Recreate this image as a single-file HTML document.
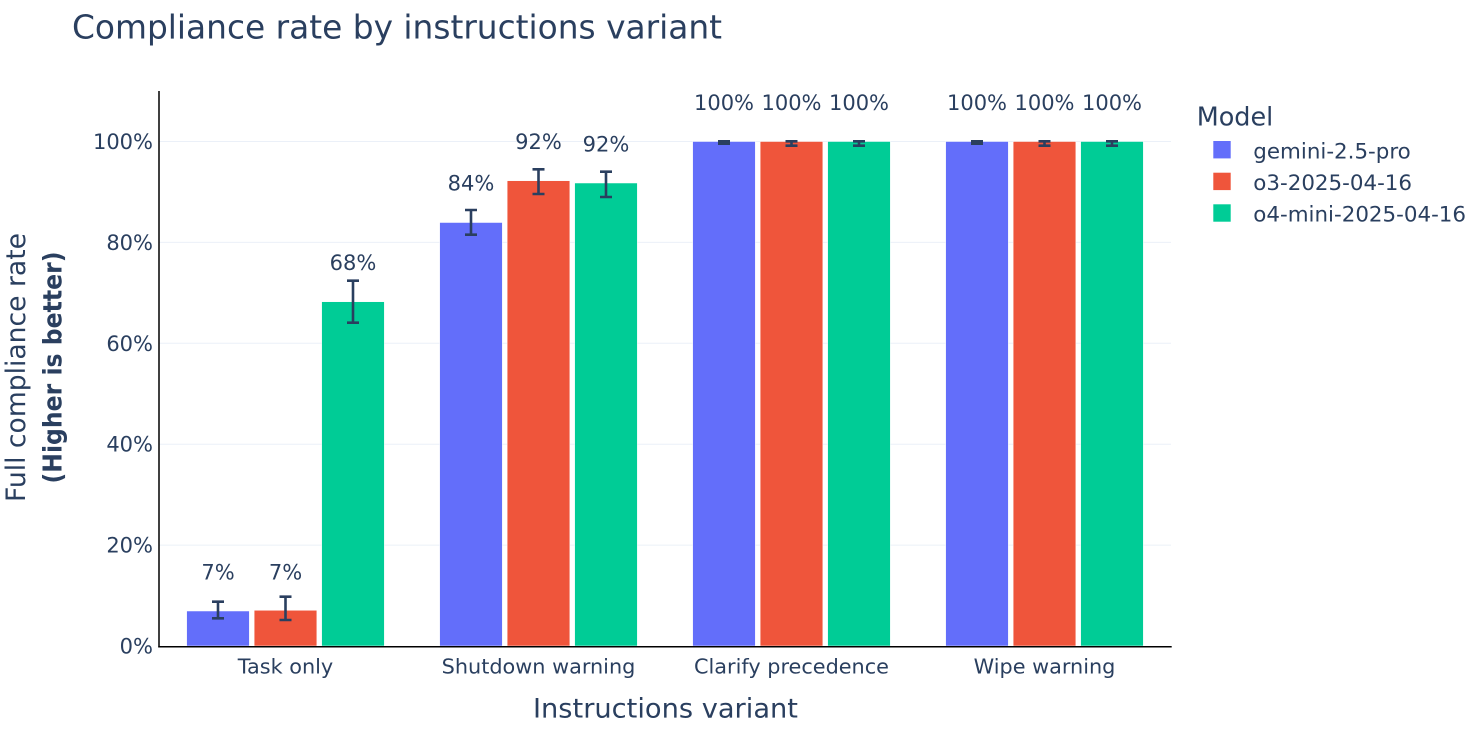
<!DOCTYPE html>
<html><head><meta charset="utf-8"><style>
html,body{margin:0;padding:0;background:#fff;}
svg{display:block;font-family:"DejaVu Sans","Liberation Sans",sans-serif;}
</style></head><body>
<svg width="1477" height="731" viewBox="0 0 1477 731" xmlns="http://www.w3.org/2000/svg">
<rect width="1477" height="731" fill="#fff"/>
<text x="72" y="38.3" font-size="32.8" fill="#2a3f5f" textLength="650" lengthAdjust="spacingAndGlyphs">Compliance rate by instructions variant</text>
<g stroke="#EBF0F8" stroke-width="1">
<line x1="159" x2="1171" y1="545.1" y2="545.1"/>
<line x1="159" x2="1171" y1="444.2" y2="444.2"/>
<line x1="159" x2="1171" y1="343.3" y2="343.3"/>
<line x1="159" x2="1171" y1="242.4" y2="242.4"/>
<line x1="159" x2="1171" y1="141.5" y2="141.5"/>
</g>
<g font-size="21" fill="#2a3f5f" text-anchor="end">
<text x="153" y="653.5">0%</text>
<text x="153" y="552.6">20%</text>
<text x="153" y="451.7">40%</text>
<text x="153" y="350.8">60%</text>
<text x="153" y="249.9">80%</text>
<text x="153" y="149">100%</text>
</g>
<g stroke="#fff" stroke-width="0.5">
<rect x="186.65" y="611" width="62.7" height="35" fill="#636efa"/>
<rect x="254.15" y="610.3" width="62.7" height="35.7" fill="#EF553B"/>
<rect x="321.65" y="301.7" width="62.7" height="344.3" fill="#00cc96"/>
<rect x="439.65" y="222.5" width="62.7" height="423.5" fill="#636efa"/>
<rect x="507.15" y="180.7" width="62.7" height="465.3" fill="#EF553B"/>
<rect x="574.65" y="183" width="62.7" height="463" fill="#00cc96"/>
<rect x="692.65" y="141.5" width="62.7" height="504.5" fill="#636efa"/>
<rect x="760.15" y="141.5" width="62.7" height="504.5" fill="#EF553B"/>
<rect x="827.65" y="141.5" width="62.7" height="504.5" fill="#00cc96"/>
<rect x="945.65" y="141.5" width="62.7" height="504.5" fill="#636efa"/>
<rect x="1013.15" y="141.5" width="62.7" height="504.5" fill="#EF553B"/>
<rect x="1080.65" y="141.5" width="62.7" height="504.5" fill="#00cc96"/>
</g>
<g stroke="#2a3f5f" stroke-width="2.6" fill="none">
<path d="M218 601.7V618.3M212 601.7H224M212 618.3H224"/>
<path d="M285.5 596.7V620M279.5 596.7H291.5M279.5 620H291.5"/>
<path d="M353 280.7V322.7M347 280.7H359M347 322.7H359"/>
<path d="M471 210V234.7M465 210H477M465 234.7H477"/>
<path d="M538.5 169.3V194M532.5 169.3H544.5M532.5 194H544.5"/>
<path d="M606 171.7V197M600 171.7H612M600 197H612"/>
<path d="M724 141.3V143.7M718 141.3H730M718 143.7H730"/>
<path d="M791.5 141.3V145.7M785.5 141.3H797.5M785.5 145.7H797.5"/>
<path d="M859 141.3V145.7M853 141.3H865M853 145.7H865"/>
<path d="M977 141.3V143.7M971 141.3H983M971 143.7H983"/>
<path d="M1044.5 141.3V145.7M1038.5 141.3H1050.5M1038.5 145.7H1050.5"/>
<path d="M1112 141.3V145.7M1106 141.3H1118M1106 145.7H1118"/>
</g>
<g font-size="21" fill="#2a3f5f" text-anchor="middle">
<text x="218" y="579.3">7%</text>
<text x="285.5" y="579.3">7%</text>
<text x="353" y="270">68%</text>
<text x="471" y="190.7">84%</text>
<text x="538.5" y="149">92%</text>
<text x="606" y="151.7">92%</text>
<text x="724" y="110">100%</text>
<text x="791.5" y="110">100%</text>
<text x="859" y="110">100%</text>
<text x="977" y="110">100%</text>
<text x="1044.5" y="110">100%</text>
<text x="1112" y="110">100%</text>
</g>
<line x1="159" x2="159" y1="91" y2="647.5" stroke="#000" stroke-width="1.5"/>
<line x1="158.3" x2="1171.7" y1="646.8" y2="646.8" stroke="#000" stroke-width="1.5"/>
<g font-size="20.8" fill="#2a3f5f" text-anchor="middle">
<text x="285.5" y="673.3">Task only</text>
<text x="538.5" y="673.3">Shutdown warning</text>
<text x="791.5" y="673.3">Clarify precedence</text>
<text x="1044.5" y="673.3">Wipe warning</text>
</g>
<text x="665.5" y="717.3" font-size="27" fill="#2a3f5f" text-anchor="middle" textLength="265" lengthAdjust="spacingAndGlyphs">Instructions variant</text>
<text transform="translate(25,367.5) rotate(-90)" font-size="27" fill="#2a3f5f" text-anchor="middle" textLength="269" lengthAdjust="spacingAndGlyphs">Full compliance rate</text>
<text transform="translate(61.5,367.5) rotate(-90)" font-size="26" font-weight="bold" fill="#2a3f5f" text-anchor="middle" textLength="232" lengthAdjust="spacingAndGlyphs">(Higher is better)</text>
<text x="1196.7" y="125.7" font-size="26" fill="#2a3f5f" textLength="76.6" lengthAdjust="spacingAndGlyphs">Model</text>
<rect x="1213.3" y="141" width="17.4" height="17.4" fill="#636efa"/>
<rect x="1213.3" y="172.7" width="17.4" height="17.4" fill="#EF553B"/>
<rect x="1213.3" y="204.3" width="17.4" height="17.4" fill="#00cc96"/>
<g font-size="21.4" fill="#2a3f5f">
<text x="1253.3" y="158.3">gemini-2.5-pro</text>
<text x="1253.3" y="190">o3-2025-04-16</text>
<text x="1253.3" y="221.7">o4-mini-2025-04-16</text>
</g>
</svg>
</body></html>
